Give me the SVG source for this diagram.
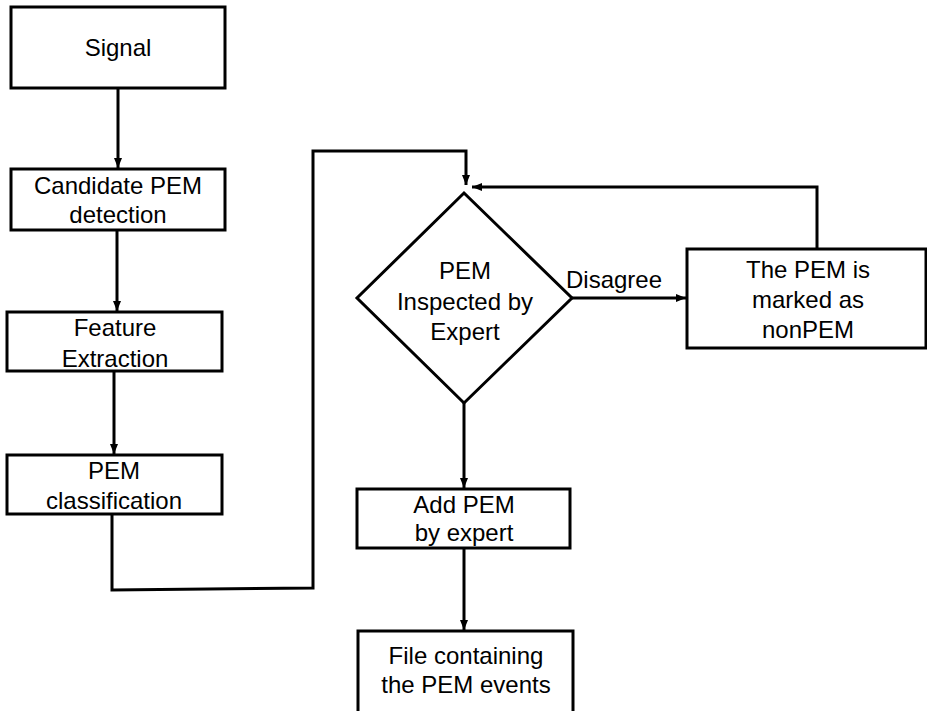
<svg xmlns="http://www.w3.org/2000/svg" width="927" height="711" viewBox="0 0 927 711">
<style>
.box{fill:#fff;stroke:#000;stroke-width:3}
.ln{fill:none;stroke:#000;stroke-width:3}
text{font-family:"Liberation Sans","Noto Sans",sans-serif;font-size:24px;fill:#000;text-anchor:middle}
</style>
<defs>
<marker id="ah" viewBox="0 0 10 10" refX="10" refY="5" markerWidth="10" markerHeight="10" markerUnits="userSpaceOnUse" orient="auto">
<path d="M0,1 L10,5 L0,9 Z" fill="#000"/>
</marker>
</defs>
<rect width="927" height="711" fill="#fff"/>
<g id="connectors">
<line class="ln" x1="118" y1="88" x2="118" y2="168" marker-end="url(#ah)"/>
<line class="ln" x1="117" y1="230" x2="117" y2="311" marker-end="url(#ah)"/>
<line class="ln" x1="114" y1="371" x2="114" y2="454" marker-end="url(#ah)"/>
<polyline class="ln" points="112,514 112,590 313,588 313,151 466,151 466,185" marker-end="url(#ah)"/>
<polyline class="ln" points="817,249 817,187 472,187" marker-end="url(#ah)"/>
<line class="ln" x1="572" y1="298" x2="686" y2="298" marker-end="url(#ah)"/>
<line class="ln" x1="464" y1="403" x2="464" y2="488" marker-end="url(#ah)"/>
<line class="ln" x1="464" y1="548" x2="464" y2="630" marker-end="url(#ah)"/>
<text x="614" y="288">Disagree</text>
</g>
<g id="signal">
<rect class="box" x="11" y="7" width="214" height="81"/>
<text x="118" y="56">Signal</text>
</g>
<g id="candidate">
<rect class="box" x="11" y="169" width="214" height="61"/>
<text x="118" y="194">Candidate PEM</text>
<text x="118" y="223">detection</text>
</g>
<g id="feature">
<rect class="box" x="7" y="312" width="215" height="59"/>
<text x="115" y="336">Feature</text>
<text x="115" y="367">Extraction</text>
</g>
<g id="classification">
<rect class="box" x="7" y="455" width="215" height="59"/>
<text x="114" y="479">PEM</text>
<text x="114" y="509">classification</text>
</g>
<g id="inspect">
<polygon class="box" points="464,193 572,298 464,403 357,298"/>
<text x="465" y="279">PEM</text>
<text x="465" y="310">Inspected by</text>
<text x="465" y="340">Expert</text>
</g>
<g id="nonpem">
<rect class="box" x="687" y="249" width="239" height="99"/>
<text x="808" y="278">The PEM is</text>
<text x="808" y="308">marked as</text>
<text x="808" y="338">nonPEM</text>
</g>
<g id="addpem">
<rect class="box" x="357" y="489" width="213" height="59"/>
<text x="464" y="513">Add PEM</text>
<text x="464" y="541">by expert</text>
</g>
<g id="file">
<rect class="box" x="358" y="631" width="215" height="85"/>
<text x="466" y="664">File containing</text>
<text x="466" y="693">the PEM events</text>
</g>
</svg>
